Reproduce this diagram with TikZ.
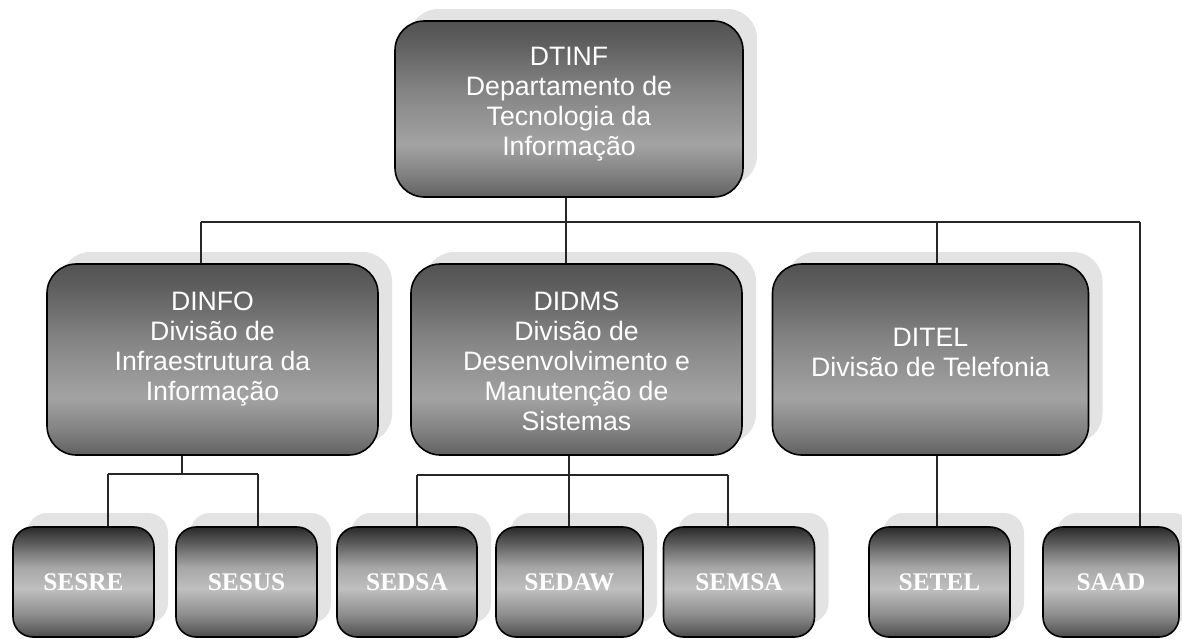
\documentclass[tikz,border=0pt]{standalone}
\usepackage{fontspec}
\setmainfont{Liberation Sans}
\newfontfamily\serifb{Liberation Serif}
\usetikzlibrary{shadows,calc}
\pgfdeclareverticalshading{midshade}{100bp}{color(0bp)=(black!62); color(25bp)=(black!62); color(31bp)=(black!50); color(40bp)=(black!36); color(55bp)=(black!48); color(68bp)=(black!62); color(75bp)=(black!68); color(100bp)=(black!68)}
\pgfdeclareverticalshading{lowshade}{100bp}{color(0bp)=(black!70); color(25bp)=(black!70); color(35bp)=(black!45); color(47bp)=(black!25); color(57bp)=(black!35); color(75bp)=(black!84); color(100bp)=(black!84)}
\tikzset{
  unitbox/.style={draw=black, line width=1.2pt, rounded corners=22pt, shade, shading=midshade,
    inner sep=0pt,
    general shadow={fill=black!11, shadow xshift=10.5pt, shadow yshift=9pt}},
  unittext/.style={text=white, align=center, font=\fontsize{20}{22.5}\selectfont, inner sep=0pt},
  secbox/.style={draw=black, line width=1.2pt, rounded corners=15pt, shade, shading=lowshade,
    text=white, font=\serifb\bfseries\fontsize{19}{22}\selectfont, inner sep=0pt,
    minimum height=82.5pt,
    general shadow={fill=black!11, shadow xshift=10.5pt, shadow yshift=10.5pt}},
  link/.style={draw=black!85, line width=1.1pt}
}
\begin{document}
\begin{tikzpicture}[x=0.75pt,y=-0.75pt]
\useasboundingbox (0,0) rectangle (1182,639);
% top
\node[unitbox, minimum width=261pt, minimum height=132pt] (dtinf) at (569,109) {};
\node[unittext] (dtinftext) at ($(dtinf.center)+(0,-5)$)
  {DTINF\\Departamento de\\Tecnologia da\\Informação};
% divisions
\node[unitbox, minimum width=248.25pt, minimum height=143.25pt] (dinfo) at (212.5,359.5) {};
\node[unittext] (dinfotext) at ($(dinfo.center)+(0,-10)$)
  {DINFO\\Divisão de\\Infraestrutura da\\Informação};
\node[unitbox, minimum width=248.25pt, minimum height=143.25pt] (didms) at (576.5,359.5) {};
\node[unittext] (didmstext) at ($(didms.center)+(0,2)$)
  {DIDMS\\Divisão de\\Desenvolvimento e\\Manutenção de\\Sistemas};
\node[unitbox, minimum width=237pt, minimum height=143.25pt] (ditel) at (930.5,359.5) {};
\node[unittext] (diteltext) at ($(ditel.center)+(0,-7)$)
  {DITEL\\Divisão de Telefonia};
% sections
\node[secbox, minimum width=105.75pt] (sesre) at (83.5,582) {SESRE};
\node[secbox, minimum width=105.75pt] (sesus) at (246.5,582) {SESUS};
\node[secbox, minimum width=105pt] (sedsa) at (407,582) {SEDSA};
\node[secbox, minimum width=110.25pt] (sedaw) at (569.5,582) {SEDAW};
\node[secbox, minimum width=113.25pt] (semsa) at (739,582) {SEMSA};
\node[secbox, minimum width=105.75pt] (setel) at (939.5,582) {SETEL};
\node[secbox, minimum width=102pt] (saad) at (1111,582) {SAAD};
% connector coordinates
\coordinate (b1) at (201,222);
\coordinate (b2) at (566,222);
\coordinate (b3) at (937,222);
\coordinate (b4) at (1140,222);
\coordinate (d0) at (182,474);
\coordinate (d1) at (108,474);
\coordinate (d2) at (258,474);
\coordinate (m0) at (569,475);
\coordinate (m1) at (417,475);
\coordinate (m3) at (728,475);
\coordinate (t0) at (937,475);
% connectors
\draw[link] (dtinf.south -| b2) -- (b2);
\draw[link] (b1) -- (b4);
\draw[link] (b1) -- (b1 |- dinfo.north);
\draw[link] (b2) -- (b2 |- didms.north);
\draw[link] (b3) -- (b3 |- ditel.north);
\draw[link] (b4) -- (b4 |- saad.north);
\draw[link] (dinfo.south -| d0) -- (d0);
\draw[link] (d1) -- (d2);
\draw[link] (d1) -- (d1 |- sesre.north);
\draw[link] (d2) -- (d2 |- sesus.north);
\draw[link] (didms.south -| m0) -- (m0 |- sedaw.north);
\draw[link] (m1) -- (m3);
\draw[link] (m1) -- (m1 |- sedsa.north);
\draw[link] (m3) -- (m3 |- semsa.north);
\draw[link] (ditel.south -| t0) -- (t0 |- setel.north);
\end{tikzpicture}
\end{document}
